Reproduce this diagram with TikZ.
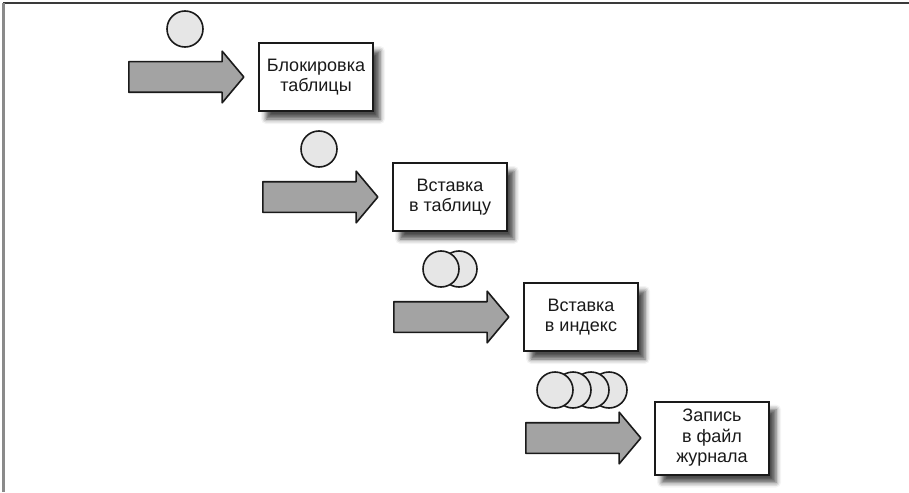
\documentclass[tikz,border=0pt]{standalone}
\usepackage{fontspec}
\setmainfont{Liberation Sans}
\usetikzlibrary{shapes.arrows,shadows.blur}
\definecolor{Ink}{HTML}{1A1A1A}
\definecolor{ArrowGray}{HTML}{A3A3A3}
\definecolor{CoinGray}{HTML}{E6E6E6}
\definecolor{FrameGray}{HTML}{8A8A8A}
\definecolor{FrameDark}{HTML}{3A3A3A}
\tikzset{
  stepbox/.style={draw=Ink,line width=2pt,fill=white,align=center,minimum width=114pt,minimum height=68pt,inner sep=2pt,text=Ink,font=\fontsize{18}{20.5}\selectfont,blur shadow={shadow xshift=7pt,shadow yshift=-8pt,shadow blur radius=5pt,shadow opacity=70}},
  blockarrow/.style={shape=single arrow,draw=Ink,line width=1.6pt,fill=ArrowGray,minimum height=115pt,single arrow head extend=10.5pt,single arrow tip angle=100,inner xsep=0pt,inner ysep=14.5pt,anchor=west,line join=round},
  coin/.style={circle,draw=Ink,line width=1.6pt,fill=CoinGray,minimum size=36pt,inner sep=0pt}
}
\begin{document}
\begin{tikzpicture}[x=1pt,y=-1pt]
\useasboundingbox (0,0) rectangle (909,492);
\draw[FrameDark,line width=2pt] (3,3) -- (909,3);
\draw[FrameGray,line width=3pt] (3,3) -- (3,492);
\foreach \i/\ax/\bx/\by/\h/\n/\txt in {1/128/316/77/68/1/Блокировка\\таблицы,2/262/450/197/68/1/Вставка\\в таблицу,3/393/581/317/68/2/Вставка\\в индекс,4/525/712/438/73/4/Запись\\в файл\\журнала}{
  \node[blockarrow] (arrow\i) at (\ax,\by) {};
  \node[stepbox,minimum height=\h pt] (op\i) at (\bx,\by) {\txt};
  \foreach \k in {\n,...,1}
    \node[coin] (coin\i-\k) at ({\ax+57+18*(\k-1)-9*(\n-1)},\by-48) {};
}
\end{tikzpicture}
\end{document}
